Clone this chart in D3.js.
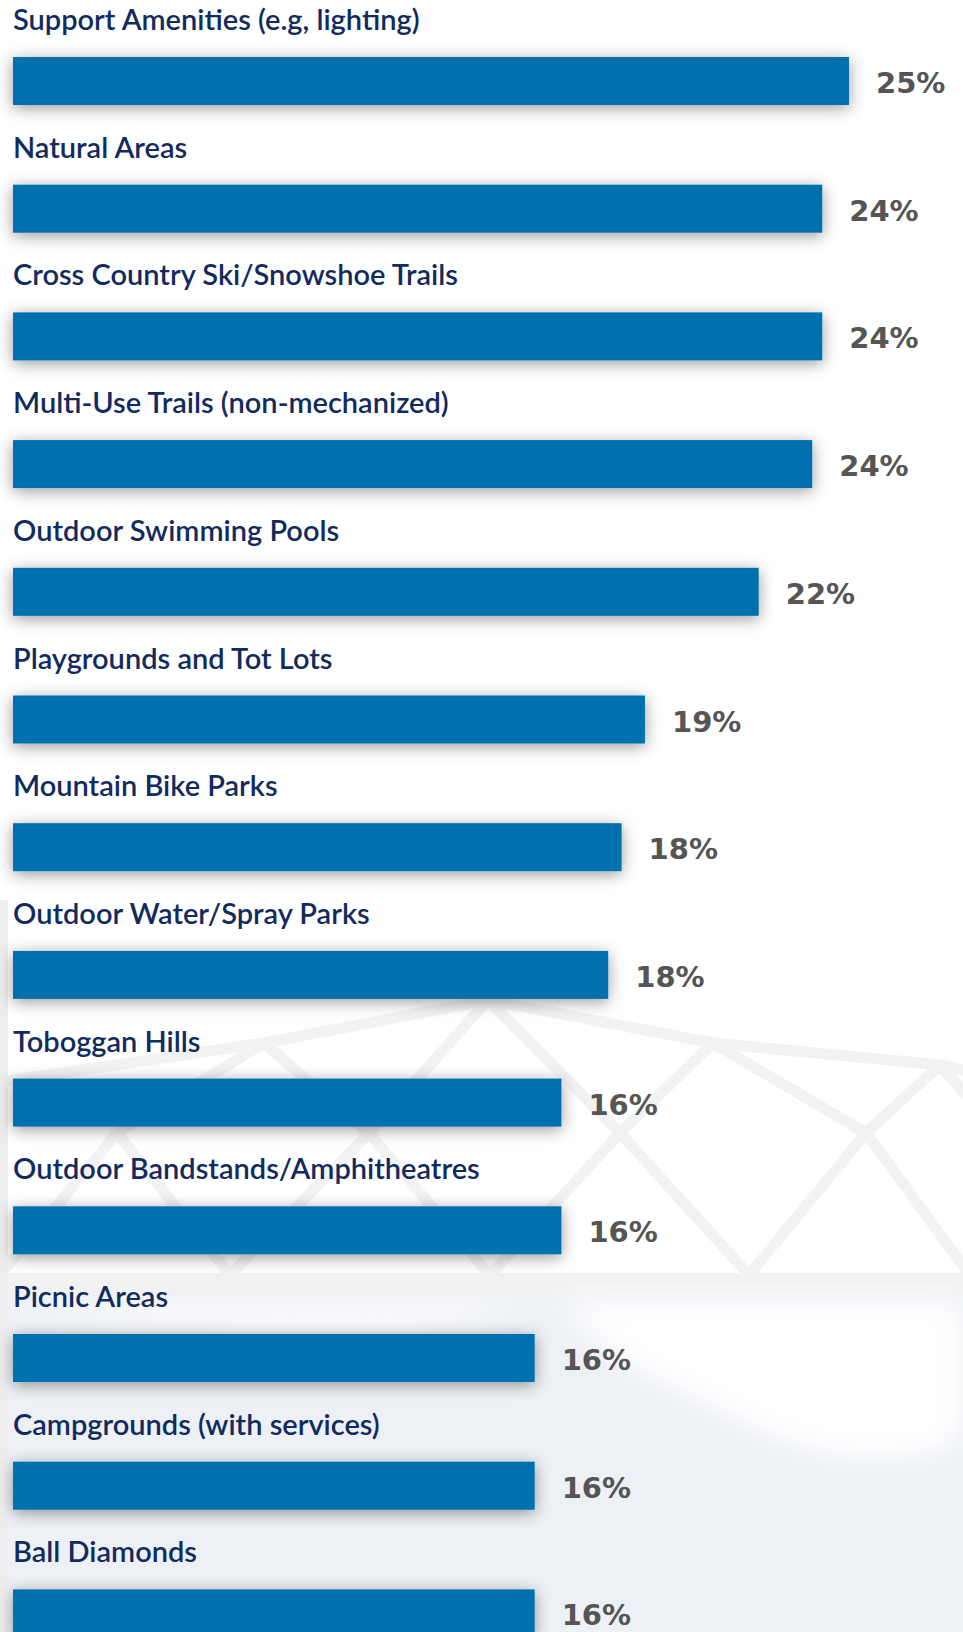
<!DOCTYPE html>
<html>
<head>
<meta charset="utf-8">
<script src="https://cdn.jsdelivr.net/npm/d3@7/dist/d3.min.js"></script>
<style>
  html, body { margin: 0; padding: 0; background: #ffffff; }
  svg { display: block; }
</style>
</head>
<body>
<svg id="chart" width="963" height="1632"></svg>
<script>
// Facility priorities: share of respondents (%)
const categories = [
  "Support Amenities (e.g, lighting)",
  "Natural Areas",
  "Cross Country Ski/Snowshoe Trails",
  "Multi-Use Trails (non-mechanized)",
  "Outdoor Swimming Pools",
  "Playgrounds and Tot Lots",
  "Mountain Bike Parks",
  "Outdoor Water/Spray Parks",
  "Toboggan Hills",
  "Outdoor Bandstands/Amphitheatres",
  "Picnic Areas",
  "Campgrounds (with services)",
  "Ball Diamonds"
];
const values = [25.0, 24.2, 24.2, 23.9, 22.3, 18.9, 18.2, 17.8, 16.4, 16.4, 15.6, 15.6, 15.6];

const W = 963, H = 1632;
const svg = d3.select("#chart");
const defs = svg.append("defs");

// soft shadow under each bar
const f = defs.append("filter").attr("id", "barShadow")
  .attr("x", "-10%").attr("y", "-60%").attr("width", "120%").attr("height", "220%");
f.append("feDropShadow").attr("dx", 0).attr("dy", 3)
  .attr("stdDeviation", 8).attr("flood-color", "#000").attr("flood-opacity", 0.4);

const blur = defs.append("filter").attr("id", "soft");
blur.append("feGaussianBlur").attr("stdDeviation", 14);

// ---- decorative backdrop: faint dome lattice and pale lower panel ----
const bg = svg.append("g");
bg.append("rect").attr("x", 0).attr("y", 0).attr("width", W).attr("height", H).attr("fill", "#ffffff");

const domeTop = [[-20, 1085], [264, 1043], [488, 1000], [713, 1043], [940, 1065], [1010, 1080]];
const domeMid = [[-10, 1135], [117, 1133], [369, 1133], [620, 1133], [866, 1133], [1000, 1133]];
const domeLow = [[0, 1275], [230, 1275], [490, 1275], [749, 1275], [970, 1275]];
const lattice = [];
for (let i = 0; i < domeTop.length - 1; i++) lattice.push([domeTop[i], domeTop[i + 1]]);
for (let i = 1; i < domeTop.length - 1; i++) {
  lattice.push([domeTop[i], domeMid[i]]);
  lattice.push([domeTop[i], domeMid[i + 1] || domeMid[i]]);
}
for (let i = 0; i < domeLow.length; i++) {
  lattice.push([domeMid[i], domeLow[i]]);
  if (domeMid[i + 1]) lattice.push([domeMid[i + 1], domeLow[i]]);
}
bg.append("g").attr("stroke", "#f2f2f2").attr("stroke-width", 11).attr("fill", "none")
  .selectAll("line").data(lattice).join("line")
  .attr("x1", d => d[0][0]).attr("y1", d => d[0][1])
  .attr("x2", d => d[1][0]).attr("y2", d => d[1][1]);

bg.append("rect").attr("x", 0).attr("y", 1273).attr("width", W).attr("height", 22).attr("fill", "#f1f1f1");
bg.append("rect").attr("x", 0).attr("y", 1295).attr("width", W).attr("height", H - 1295).attr("fill", "#edf0f5");
bg.append("path").attr("fill", "#ffffff").attr("filter", "url(#soft)")
  .attr("d", "M560,1300 L963,1300 L963,1440 C900,1470 820,1460 760,1430 C680,1390 600,1360 560,1300 Z");
bg.append("path").attr("fill", "#ffffff").attr("opacity", 0.7).attr("filter", "url(#soft)")
  .attr("d", "M20,1300 L520,1300 C470,1330 380,1340 300,1335 C200,1330 90,1320 20,1300 Z");
bg.append("rect").attr("x", 0).attr("y", 900).attr("width", 8).attr("height", H - 900).attr("fill", "#eeeeee");

// ---- scales ----
const x = d3.scaleLinear().domain([0, 25]).range([13, 849]);
const y = d3.scaleBand().domain(categories).range([57, 57 + 127.7 * categories.length]).paddingInner(0);
const barH = 48;
const fmt = v => d3.format(".0f")(v) + "%";

const rows = svg.append("g").selectAll("g").data(categories).join("g")
  .attr("transform", d => `translate(0,${y(d)})`);

rows.append("rect")
  .attr("x", x(0))
  .attr("y", 0)
  .attr("width", (d, i) => x(values[i]) - x(0))
  .attr("height", barH)
  .attr("fill", "#006fae")
  .attr("filter", "url(#barShadow)");

rows.append("text")
  .attr("x", x(0))
  .attr("y", -27)
  .attr("font-family", "Lato, 'Open Sans', sans-serif")
  .attr("font-weight", 600)
  .attr("font-size", 29)
  .attr("fill", "#112b5f")
  .text(d => d);

rows.append("text")
  .attr("x", (d, i) => x(values[i]) + 27)
  .attr("y", 36)
  .attr("font-family", "'DejaVu Sans', sans-serif")
  .attr("font-weight", 700)
  .attr("font-size", 29)
  .attr("fill", "#555555")
  .text((d, i) => fmt(values[i]));
</script>
</body>
</html>
